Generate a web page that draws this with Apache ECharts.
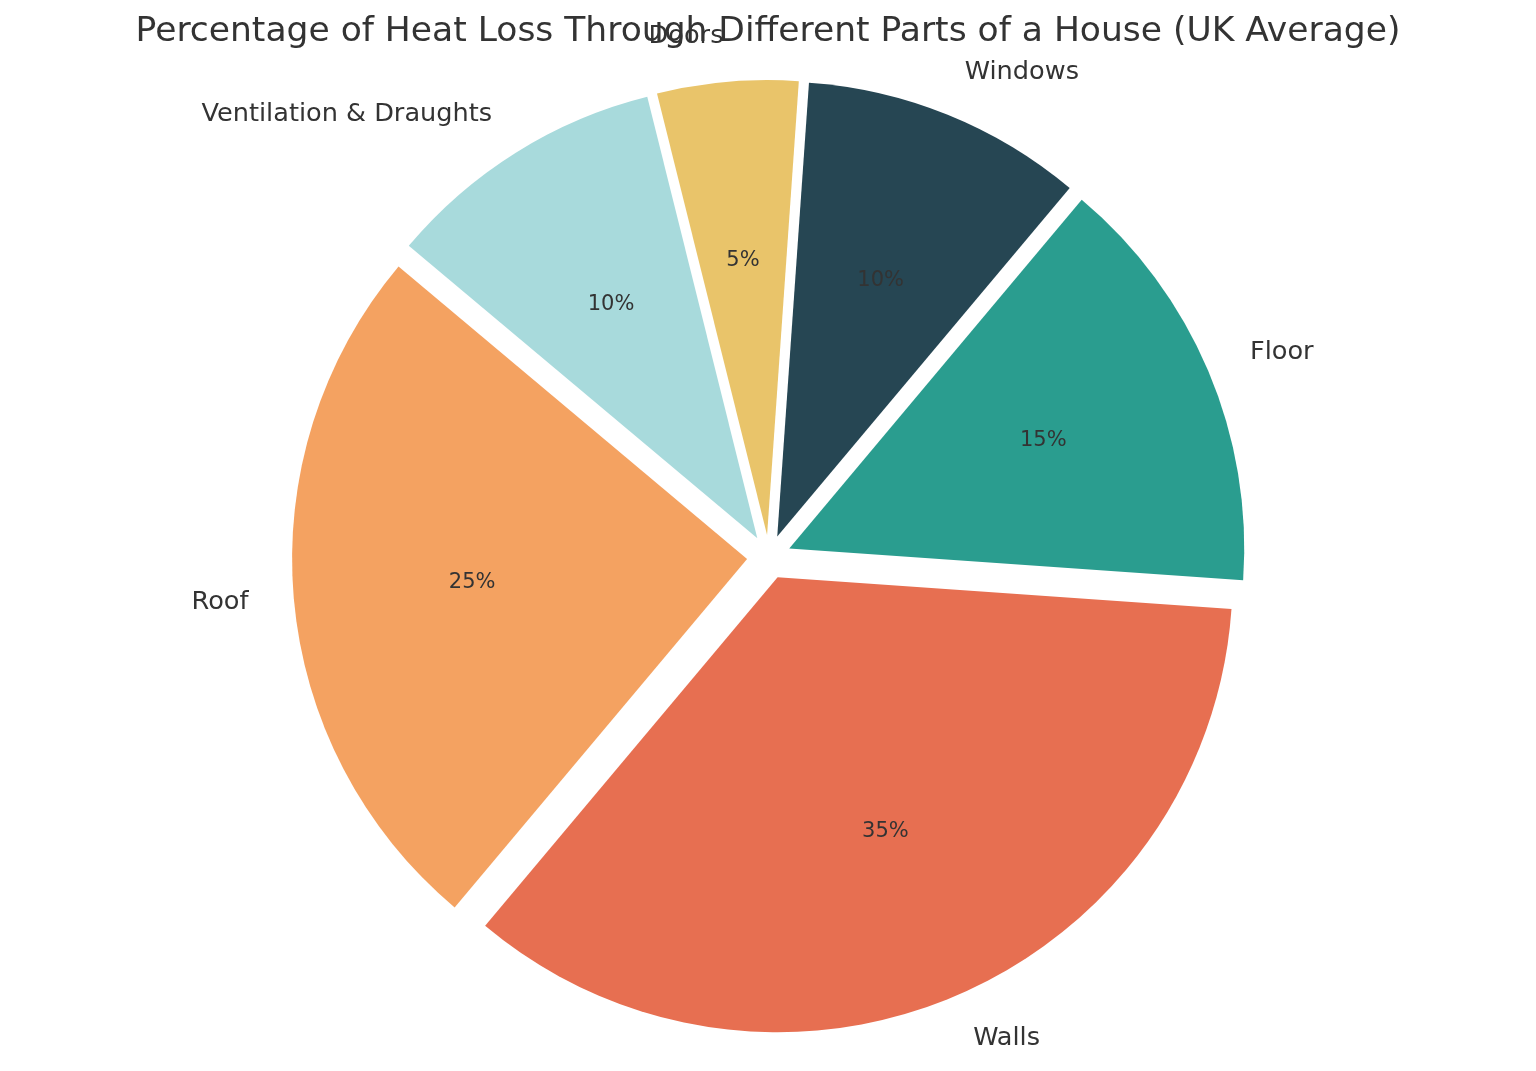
<!DOCTYPE html>
<html>
<head>
<meta charset="utf-8">
<title>Heat loss pie</title>
<script src="https://cdn.jsdelivr.net/npm/echarts@6/dist/echarts.min.js"></script>
<style>
  html, body { margin: 0; padding: 0; background: #ffffff; }
  #chart { width: 1536px; height: 1071px; }
</style>
</head>
<body>
<div id="chart"></div>
<script>
// slices in drawing order (counter-clockwise from 140 deg)
const parts = ['Roof', 'Walls', 'Floor', 'Windows', 'Doors', 'Ventilation & Draughts']
const shares = [25, 35, 15, 10, 5, 10]
const colors = ['#F4A261', '#E76F51', '#2A9D8F', '#264653', '#E9C46A', '#A8DADC']

const R = 455
const center = [769, 557]
const explode = 22
const font = 'DejaVu Sans'

const chart = echarts.init(document.getElementById('chart'))

const slices = parts.map((name, i) => ({
  name,
  value: shares[i],
  selected: true,
  itemStyle: { color: colors[i] }
}))

chart.setOption({
  animation: false,
  backgroundColor: '#ffffff',
  title: {
    text: 'Percentage of Heat Loss Through Different Parts of a House (UK Average)',
    left: 'center',
    top: 10,
    textStyle: {
      fontFamily: font,
      fontSize: 34.5,
      fontWeight: 'normal',
      color: '#333333'
    }
  },
  series: [
    {
      // slices + outer name labels
      type: 'pie',
      center,
      radius: [0, R],
      startAngle: 140,
      clockwise: false,
      avoidLabelOverlap: false,
      selectedMode: 'multiple',
      selectedOffset: explode,
      itemStyle: { borderWidth: 0 },
      emphasis: { disabled: true },
      label: {
        show: true,
        position: 'outside',
        formatter: '{b}',
        fontFamily: font,
        fontSize: 25.6,
        color: '#333333',
        distanceToLabelLine: 0
      },
      labelLine: { show: false, length: 0.1 * R, length2: 0 },
      data: slices
    },
    {
      // transparent ring that only carries the percent labels at 0.6 R
      type: 'pie',
      center,
      radius: [0.2 * R, R],
      startAngle: 140,
      clockwise: false,
      silent: true,
      avoidLabelOverlap: false,
      selectedMode: 'multiple',
      selectedOffset: explode,
      itemStyle: { color: 'transparent', borderWidth: 0 },
      emphasis: { disabled: true },
      label: {
        show: true,
        position: 'inside',
        formatter: '{c}%',
        fontFamily: font,
        fontSize: 21,
        color: '#333333'
      },
      labelLine: { show: false },
      data: parts.map((name, i) => ({ name, value: shares[i], selected: true }))
    }
  ]
})
</script>
</body>
</html>
